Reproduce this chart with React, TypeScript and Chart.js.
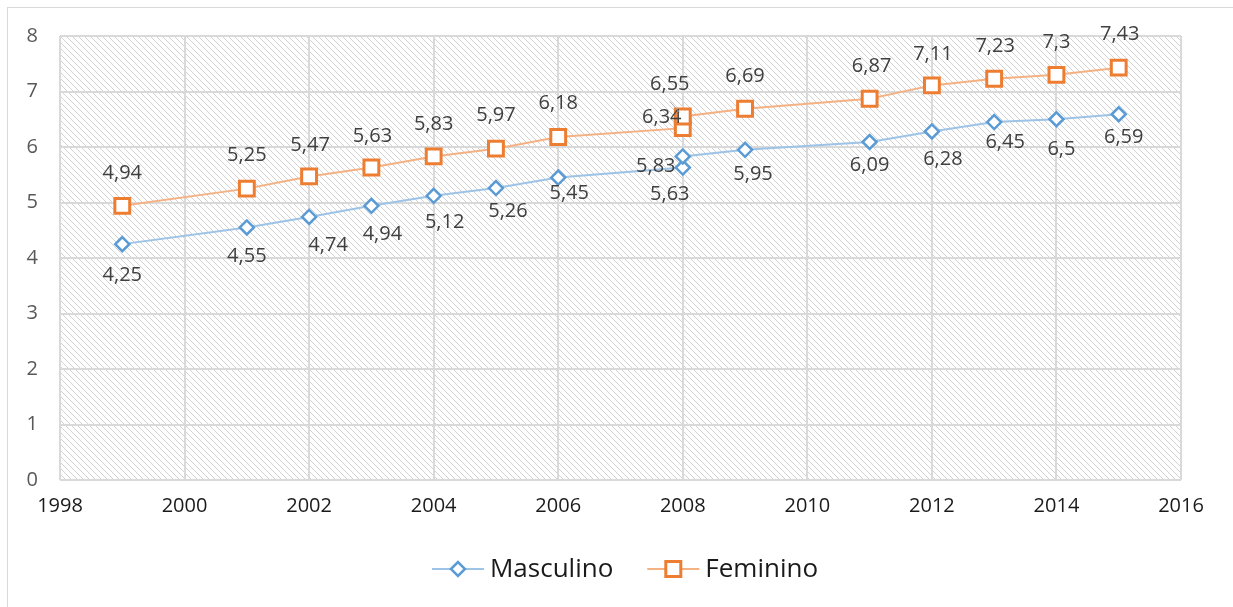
import React, { useEffect, useRef } from "react";
import { Chart, registerables } from "chart.js";

Chart.register(...registerables);

// ---- data ----
const yearsMasc = [1999, 2001, 2002, 2003, 2004, 2005, 2006, 2008, 2008, 2009, 2011, 2012, 2013, 2014, 2015];
const masculino = [4.25, 4.55, 4.74, 4.94, 5.12, 5.26, 5.45, 5.63, 5.83, 5.95, 6.09, 6.28, 6.45, 6.5, 6.59];
const yearsFem = [1999, 2001, 2002, 2003, 2004, 2005, 2006, 2008, 2008, 2009, 2011, 2012, 2013, 2014, 2015];
const feminino = [4.94, 5.25, 5.47, 5.63, 5.83, 5.97, 6.18, 6.34, 6.55, 6.69, 6.87, 7.11, 7.23, 7.3, 7.43];
const seriesNames = ["Masculino", "Feminino"];
const xTicksMin = 1998;
const xTicksMax = 2016;
const yTicksMin = 0;
const yTicksMax = 8;

// ---- label placement (pixel offsets from each point) ----
const mascLabelOffsets: [number, number][] = [
  [0, 31], [0, 29], [19, 28], [11, 28], [11, 26], [12, 23], [11, 16], [-13, 27],
  [-27, 10], [8, 25], [0, 23], [11, 28], [11, 20], [5, 30], [5, 23],
];
const femLabelOffsets: [number, number][] = [
  [0, -33], [0, -33], [1, -31], [1, -31], [0, -32], [0, -33], [0, -34], [-21, -11],
  [-13, -32], [0, -32], [2, -32], [1, -31], [1, -32], [0, -33], [1, -33],
];

const FONT = '"Open Sans", "DejaVu Sans", sans-serif';

function makePattern(ctx: CanvasRenderingContext2D): CanvasPattern | string {
  const tile = document.createElement("canvas");
  tile.width = 6;
  tile.height = 6;
  const t = tile.getContext("2d");
  if (!t) return "#f7f7f7";
  t.fillStyle = "#ffffff";
  t.fillRect(0, 0, 6, 6);
  for (let i = 0; i < 6; i++) {
    t.fillStyle = "#d2d2d2";
    t.fillRect(i, i, 1, 1);
  }
  return ctx.createPattern(tile, "repeat") || "#f7f7f7";
}

const hatchPlugin = {
  id: "hatch",
  beforeDraw(chart: any) {
    const { ctx, chartArea } = chart;
    ctx.save();
    ctx.fillStyle = makePattern(ctx);
    ctx.fillRect(chartArea.left, chartArea.top, chartArea.right - chartArea.left, chartArea.bottom - chartArea.top);
    ctx.restore();
  },
};

const fmt = (v: number) => String(v).replace(".", ",");

const labelPlugin = {
  id: "dataLabels",
  afterDatasetsDraw(chart: any) {
    const ctx = chart.ctx;
    ctx.save();
    ctx.font = `20px ${FONT}`;
    ctx.fillStyle = "#404040";
    ctx.textAlign = "center";
    ctx.textBaseline = "middle";
    const offsets = [mascLabelOffsets, femLabelOffsets];
    chart.data.datasets.forEach((ds: any, di: number) => {
      const meta = chart.getDatasetMeta(di);
      meta.data.forEach((el: any, i: number) => {
        const [dx, dy] = offsets[di][i] || [0, 0];
        ctx.fillText(fmt(ds.data[i].y), el.x + dx, el.y + dy);
      });
    });
    // leader line for the 2008 Feminino upper label
    const el = chart.getDatasetMeta(1).data[8];
    if (el) {
      ctx.strokeStyle = "#a6a6a6";
      ctx.lineWidth = 1;
      ctx.beginPath();
      ctx.moveTo(el.x - 13, el.y - 15);
      ctx.lineTo(el.x - 3, el.y - 4);
      ctx.stroke();
    }
    ctx.restore();
  },
};

function drawDiamond(ctx: CanvasRenderingContext2D, x: number, y: number, r: number) {
  ctx.beginPath();
  ctx.moveTo(x - r, y);
  ctx.lineTo(x, y - r);
  ctx.lineTo(x + r, y);
  ctx.lineTo(x, y + r);
  ctx.closePath();
}

const legendPlugin = {
  id: "customLegend",
  afterDraw(chart: any) {
    const ctx = chart.ctx;
    ctx.save();
    ctx.font = `26px ${FONT}`;
    ctx.textBaseline = "middle";
    ctx.textAlign = "left";
    const ds = chart.data.datasets;
    const lineLen = 52;
    const gap = 6;
    const itemGap = 34;
    const widths = ds.map((d: any) => lineLen + gap + ctx.measureText(d.label).width);
    const total = widths[0] + itemGap + widths[1];
    let x = 625 - total / 2;
    const y = 569;
    ds.forEach((d: any, i: number) => {
      ctx.strokeStyle = d.borderColor;
      ctx.lineWidth = 2;
      ctx.beginPath();
      ctx.moveTo(x, y);
      ctx.lineTo(x + lineLen, y);
      ctx.stroke();
      const cx = x + lineLen / 2;
      ctx.fillStyle = "#ffffff";
      ctx.strokeStyle = d.pointBorderColor;
      ctx.lineWidth = d.pointBorderWidth;
      if (i === 0) {
        drawDiamond(ctx, cx, y, 7);
      } else {
        ctx.beginPath();
        ctx.rect(cx - 7.5, y - 7.5, 15, 15);
      }
      ctx.fill();
      ctx.stroke();
      ctx.fillStyle = "#1a1a1a";
      ctx.fillText(d.label, x + lineLen + gap, y + 1);
      x += widths[i] + itemGap;
    });
    ctx.restore();
  },
};

export default function App() {
  const ref = useRef<HTMLCanvasElement>(null);

  useEffect(() => {
    const canvas = ref.current;
    if (!canvas) return;
    const chart = new Chart(canvas, {
      type: "scatter",
      data: {
        datasets: [
          {
            label: seriesNames[0],
            data: yearsMasc.map((x, i) => ({ x, y: masculino[i] })),
            showLine: true,
            borderColor: "#9dc3e6",
            borderWidth: 2,
            pointStyle: "rectRot",
            pointRadius: 7,
            pointHoverRadius: 7,
            pointBorderColor: "#5b9bd5",
            pointBackgroundColor: "#ffffff",
            pointBorderWidth: 2.5,
          },
          {
            label: seriesNames[1],
            data: yearsFem.map((x, i) => ({ x, y: feminino[i] })),
            showLine: true,
            borderColor: "#f4b183",
            borderWidth: 2,
            pointStyle: "rect",
            pointRadius: 10.5,
            pointHoverRadius: 10.5,
            pointBorderColor: "#ed7d31",
            pointBackgroundColor: "#ffffff",
            pointBorderWidth: 3,
          },
        ],
      } as any,
      options: {
        responsive: false,
        animation: false,
        layout: { padding: { left: 0, top: 36, right: 52, bottom: 0 } },
        plugins: {
          legend: { display: false },
          tooltip: { enabled: false },
        },
        scales: {
          x: {
            type: "linear",
            min: xTicksMin,
            max: xTicksMax,
            ticks: {
              stepSize: 2,
              callback: (v: any) => String(v),
              color: "#1a1a1a",
              font: { family: FONT, size: 20 },
              padding: 14,
              maxRotation: 0,
              autoSkip: false,
            },
            grid: { color: "#d9d9d9", lineWidth: 2, drawTicks: false },
            border: { display: false },
            afterFit: (s: any) => {
              s.height = 127;
            },
          },
          y: {
            min: yTicksMin,
            max: yTicksMax,
            ticks: {
              stepSize: 1,
              color: "#595959",
              font: { family: FONT, size: 20 },
              padding: 22,
            },
            grid: { color: "#d9d9d9", lineWidth: 2, drawTicks: false },
            border: { display: false },
            afterFit: (s: any) => {
              s.width = 60;
            },
          },
        },
      } as any,
      plugins: [hatchPlugin, labelPlugin, legendPlugin],
    });
    return () => chart.destroy();
  }, []);

  return (
    <>
      <div
        style={{
          position: "fixed",
          left: 7,
          top: 7,
          width: 1240,
          height: 620,
          border: "1px solid #d9d9d9",
          boxSizing: "border-box",
          background: "#ffffff",
        }}
      />
      <canvas
        ref={ref}
        width={1233}
        height={607}
        style={{ position: "fixed", left: 0, top: 0, width: 1233, height: 607 }}
      />
    </>
  );
}
